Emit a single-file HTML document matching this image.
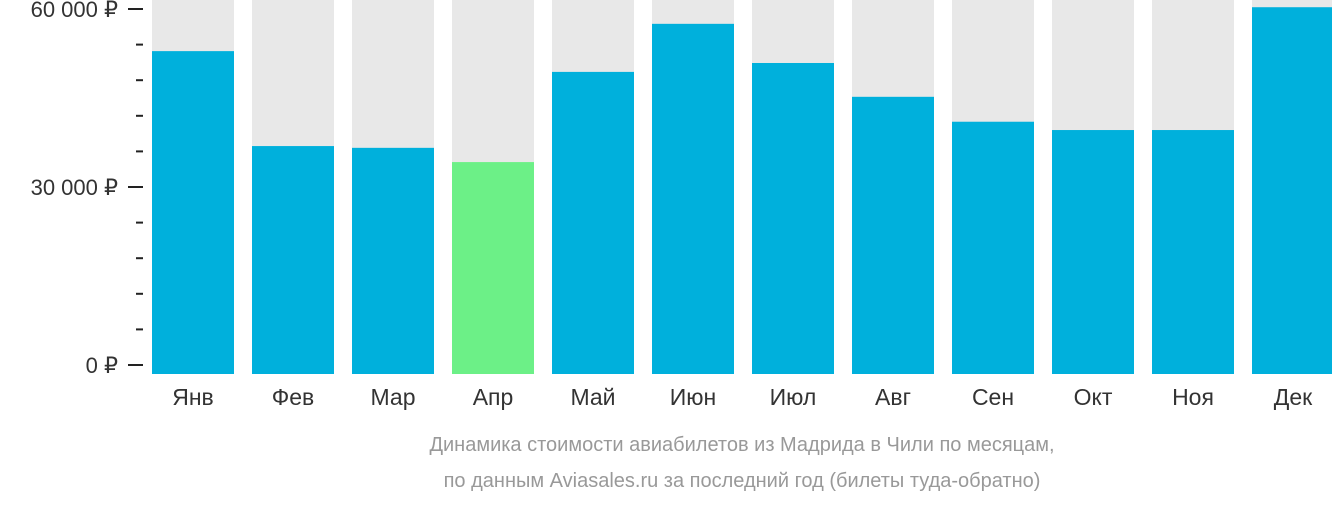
<!DOCTYPE html>
<html><head><meta charset="utf-8"><style>
body{margin:0;background:#fff;width:1332px;height:502px;overflow:hidden;font-family:"Liberation Sans","DejaVu Sans",sans-serif}
</style></head><body>
<svg id="chart" width="1332" height="502" xmlns="http://www.w3.org/2000/svg"></svg>
<script>
const months=["Янв","Фев","Мар","Апр","Май","Июн","Июл","Авг","Сен","Окт","Ноя","Дек"];
const prices=[52900,36900,36600,34200,49400,57500,50900,45200,41000,39600,39600,60300];
const highlight=[false,false,false,true,false,false,false,false,false,false,false,false];
const tickValues=[0,30000,60000];
const tickLabels=["0 ₽","30 000 ₽","60 000 ₽"];
const minorTicks=[6000,12000,18000,24000,36000,42000,48000,54000];
const NS="http://www.w3.org/2000/svg";
const svg=document.getElementById('chart');
const y0=365,yTop=9,maxV=60000;
function y(v){return y0-(v/maxV)*(y0-yTop);}
function x(i){return 152+i*100;}
const bw=82,barBottom=374;
function mk(tag,attrs){const e=document.createElementNS(NS,tag);for(const k in attrs)e.setAttribute(k,attrs[k]);svg.appendChild(e);return e;}
months.forEach((m,i)=>{
  const bg=mk('rect',{x:x(i),y:0,width:bw,height:barBottom,fill:'#e8e8e8'});
  
  
  const b=mk('rect',{x:x(i),y:y(prices[i]),width:bw,height:barBottom-y(prices[i]),fill:highlight[i]?'#6cf087':'#00b0dc'});
  
  
  const t=mk('text',{x:x(i)+bw/2,y:405,'text-anchor':'middle','font-size':'23',fill:'#333'});
  t.textContent=m;
  
  
});
tickValues.forEach((v,i)=>{
  const l=mk('line',{x1:128,x2:143,y1:y(v),y2:y(v),stroke:'#222','stroke-width':2});
  
  
  const t=mk('text',{x:118,y:y(v)+8,'text-anchor':'end','font-size':'22',fill:'#333'});
  t.textContent=tickLabels[i];
  
  
});
minorTicks.forEach(v=>{
  const l=mk('line',{x1:136,x2:143,y1:y(v),y2:y(v),stroke:'#222','stroke-width':2});
  
  
});
const c1=mk('text',{x:742,y:451,'text-anchor':'middle','font-size':'20',fill:'#999'});
c1.textContent='Динамика стоимости авиабилетов из Мадрида в Чили по месяцам,';


const c2=mk('text',{x:742,y:487,'text-anchor':'middle','font-size':'20',fill:'#999'});
c2.textContent='по данным Aviasales.ru за последний год (билеты туда-обратно)';


</script>
</body></html>
